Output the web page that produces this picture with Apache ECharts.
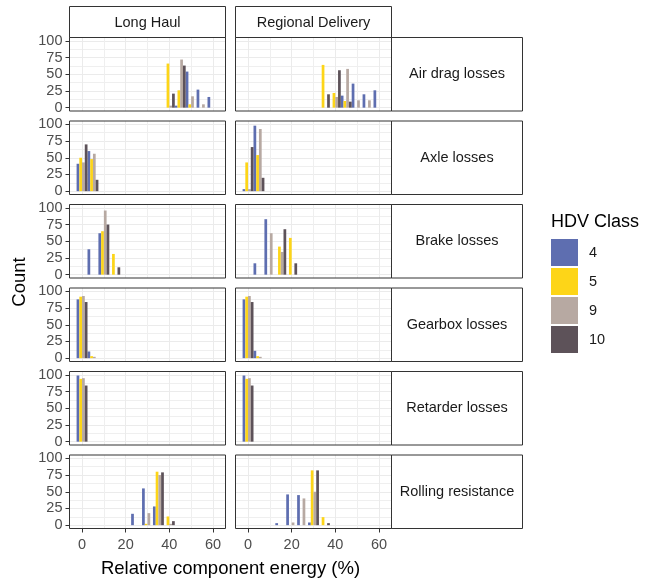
<!DOCTYPE html>
<html>
<head>
<meta charset="utf-8">
<script src="https://cdn.jsdelivr.net/npm/echarts@6/dist/echarts.min.js"></script>
<style>html,body{margin:0;padding:0;background:#fff}#main{width:657px;height:578px}</style>
</head>
<body>
<div id="main"></div>
<script>
// bin centres, binwidth 5 (relative component energy in %)
var bins = [0,5,10,15,20,25,30,35,40,45,50,55,60];
var hdvClasses = ['4','5','9','10'];
var classColors = ['#5e6eb0','#fdd518','#b7a9a2','#5d5259'];
var fleets = ['Long Haul','Regional Delivery'];
var components = ['Air drag losses','Axle losses','Brake losses','Gearbox losses','Retarder losses','Rolling resistance'];
var xTicks = [0,20,40,60];
var xMinor = [10,30,50];
var yTicks = [0,25,50,75,100];
var yMinor = [12.5,37.5,62.5,87.5];

// counts, one row per HDV class (4,5,9,10), one column per bin
var airDragLH = [
	[0,0,0,0,0,0,0,0,0,3,54,27,16],
	[0,0,0,0,0,0,0,0,66,26,5,0,0],
	[0,0,0,0,0,0,0,0,3,72,17,5,0],
	[0,0,0,0,0,0,0,0,21,63,0,0,0]
];
var airDragRD = [
	[0,0,0,0,0,0,0,0,0,18,36,20,26],
	[0,0,0,0,0,0,0,64,22,10,0,0,0],
	[0,0,0,0,0,0,0,0,16,58,11,11,0],
	[0,0,0,0,0,0,0,20,56,9,0,0,0]
];
var axleLH = [
	[41,60,0,0,0,0,0,0,0,0,0,0,0],
	[50,48,0,0,0,0,0,0,0,0,0,0,0],
	[43,56,0,0,0,0,0,0,0,0,0,0,0],
	[70,17,0,0,0,0,0,0,0,0,0,0,0]
];
var axleRD = [
	[3,98,0,0,0,0,0,0,0,0,0,0,0],
	[43,54,0,0,0,0,0,0,0,0,0,0,0],
	[3,93,0,0,0,0,0,0,0,0,0,0,0],
	[66,20,0,0,0,0,0,0,0,0,0,0,0]
];
var brakeLH = [
	[0,38,62,0,0,0,0,0,0,0,0,0,0],
	[0,0,65,31,0,0,0,0,0,0,0,0,0],
	[0,0,96,0,0,0,0,0,0,0,0,0,0],
	[0,0,75,11,0,0,0,0,0,0,0,0,0]
];
var brakeRD = [
	[0,17,83,0,0,0,0,0,0,0,0,0,0],
	[0,0,0,42,55,0,0,0,0,0,0,0,0],
	[0,0,62,34,0,0,0,0,0,0,0,0,0],
	[0,0,0,68,17,0,0,0,0,0,0,0,0]
];
var gearboxLH = [
	[88,10,0,0,0,0,0,0,0,0,0,0,0],
	[92,3,0,0,0,0,0,0,0,0,0,0,0],
	[93,2,0,0,0,0,0,0,0,0,0,0,0],
	[84,0,0,0,0,0,0,0,0,0,0,0,0]
];
var gearboxRD = [
	[88,11,0,0,0,0,0,0,0,0,0,0,0],
	[92,3,0,0,0,0,0,0,0,0,0,0,0],
	[93,2,0,0,0,0,0,0,0,0,0,0,0],
	[84,0,0,0,0,0,0,0,0,0,0,0,0]
];
var retarderLH = [
	[99,0,0,0,0,0,0,0,0,0,0,0,0],
	[94,0,0,0,0,0,0,0,0,0,0,0,0],
	[95,0,0,0,0,0,0,0,0,0,0,0,0],
	[84,0,0,0,0,0,0,0,0,0,0,0,0]
];
var retarderRD = [
	[99,0,0,0,0,0,0,0,0,0,0,0,0],
	[94,0,0,0,0,0,0,0,0,0,0,0,0],
	[95,0,0,0,0,0,0,0,0,0,0,0,0],
	[84,0,0,0,0,0,0,0,0,0,0,0,0]
];
var rollingLH = [
	[0,0,0,0,0,17,55,28,0,0,0,0,0],
	[0,0,0,0,0,0,2,80,13,0,0,0,0],
	[0,0,0,0,0,0,18,75,2,0,0,0,0],
	[0,0,0,0,0,0,0,79,6,0,0,0,0]
];
var rollingRD = [
	[0,0,0,3,46,45,4,0,0,0,0,0,0],
	[0,0,0,0,0,0,82,12,0,0,0,0,0],
	[0,0,0,0,4,40,50,0,0,0,0,0,0],
	[0,0,0,0,0,0,82,3,0,0,0,0,0]
];

var panels = [
	[airDragLH, airDragRD],
	[axleLH, axleRD],
	[brakeLH, brakeRD],
	[gearboxLH, gearboxRD],
	[retarderLH, retarderRD],
	[rollingLH, rollingRD]
];

// layout of the facet grid
var colLeft = [69.5, 235.5];
var panelW = 156;
var rowTop0 = 37.5, rowPitch = 83.5, panelH = 73.5;
var stripW = 131;
var font = 'Liberation Sans, Arial, sans-serif';

var grids = [], xAxes = [], yAxes = [], series = [], graphics = [];

for (var r = 0; r < components.length; r++) {
	var rowY = rowTop0 + r * rowPitch;
	for (var c = 0; c < fleets.length; c++) {
		var g = r * 2 + c;
		grids.push({
			left: colLeft[c], top: rowY, width: panelW, height: panelH,
			show: true, backgroundColor: '#fff', borderWidth: 0
		});
		var bottomRow = (r == components.length - 1);
		xAxes.push({
			type: 'value', gridIndex: g, min: -5.75, max: 65.75, position: 'bottom',
			axisLine: {show: false, onZero: false},
			axisTick: {show: bottomRow, length: 4, customValues: xTicks, lineStyle: {color: '#333'}},
			axisLabel: {show: bottomRow, customValues: xTicks, color: '#4d4d4d', fontSize: 14.5, margin: 9},
			splitLine: {show: true, lineStyle: {color: '#ebebeb', width: 1}}
		});
		xAxes.push({
			type: 'value', gridIndex: g, min: -5.75, max: 65.75, position: 'bottom',
			axisLine: {show: false, onZero: false},
			axisTick: {show: false, customValues: xMinor},
			axisLabel: {show: false, customValues: xMinor},
			splitLine: {show: true, lineStyle: {color: '#efefef', width: 1}}
		});
		yAxes.push({
			type: 'value', gridIndex: g, min: -5, max: 105, position: 'left',
			axisLine: {show: false, onZero: false},
			axisTick: {show: c == 0, length: 4, customValues: yTicks, lineStyle: {color: '#333'}},
			axisLabel: {show: c == 0, customValues: yTicks, color: '#4d4d4d', fontSize: 14.5, margin: 7},
			splitLine: {show: true, lineStyle: {color: '#ebebeb', width: 1}}
		});
		yAxes.push({
			type: 'value', gridIndex: g, min: -5, max: 105, position: 'left',
			axisLine: {show: false, onZero: false},
			axisTick: {show: false, customValues: yMinor},
			axisLabel: {show: false, customValues: yMinor},
			splitLine: {show: true, lineStyle: {color: '#efefef', width: 1}}
		});
		var counts = panels[r][c];
		for (var k = 0; k < hdvClasses.length; k++) {
			series.push({
				name: hdvClasses[k],
				type: 'bar',
				xAxisIndex: g * 2,
				yAxisIndex: g * 2,
				barGap: '0%',
				barCategoryGap: '0%',
				itemStyle: {color: classColors[k]},
				data: bins.map(function (b, i) { return [b, counts[k][i]]; })
			});
		}
		// panel border on top of the grid lines
		graphics.push({
			type: 'rect', z: 100, shape: {x: colLeft[c], y: rowY, width: panelW, height: panelH},
			style: {fill: 'none', stroke: '#333', lineWidth: 1}
		});
	}
	// strip on the right
	graphics.push({
		type: 'rect', z: 90, shape: {x: colLeft[1] + panelW, y: rowY, width: stripW, height: panelH},
		style: {fill: '#fff', stroke: '#333', lineWidth: 1}
	});
	graphics.push({
		type: 'text', z: 101, x: colLeft[1] + panelW + stripW / 2, y: rowY + panelH / 2,
		style: {text: components[r], fill: '#1a1a1a', font: '14.5px ' + font, textAlign: 'center', textVerticalAlign: 'middle'}
	});
}

// strips on top
for (var c = 0; c < fleets.length; c++) {
	graphics.push({
		type: 'rect', z: 90, shape: {x: colLeft[c], y: 6.5, width: panelW, height: 31},
		style: {fill: '#fff', stroke: '#333', lineWidth: 1}
	});
	graphics.push({
		type: 'text', z: 101, x: colLeft[c] + panelW / 2, y: 23,
		style: {text: fleets[c], fill: '#1a1a1a', font: '14.5px ' + font, textAlign: 'center', textVerticalAlign: 'middle'}
	});
}

// axis titles and legend title
graphics.push({
	type: 'text', x: 20, y: 282, rotation: Math.PI / 2,
	style: {text: 'Count', fill: '#000', font: '18.5px ' + font, textAlign: 'center', textVerticalAlign: 'middle'}
});
graphics.push({
	type: 'text', x: 230.5, y: 569,
	style: {text: 'Relative component energy (%)', fill: '#000', font: '18.5px ' + font, textAlign: 'center', textVerticalAlign: 'middle'}
});
graphics.push({
	type: 'text', x: 551, y: 222,
	style: {text: 'HDV Class', fill: '#000', font: '18px ' + font, textAlign: 'left', textVerticalAlign: 'middle'}
});

var myChart = echarts.init(document.getElementById('main'));
var option = {
	animation: false,
	textStyle: {fontFamily: font},
	legend: {
		data: hdvClasses,
		orient: 'vertical',
		left: 551, top: 239,
		itemWidth: 27, itemHeight: 27, itemGap: 2,
		icon: 'rect',
		padding: 0,
		textStyle: {fontSize: 14.5, color: '#1a1a1a', padding: [0, 0, 0, 6]}
	},
	grid: grids,
	xAxis: xAxes,
	yAxis: yAxes,
	series: series,
	graphic: graphics
};
myChart.setOption(option);
</script>
</body>
</html>
